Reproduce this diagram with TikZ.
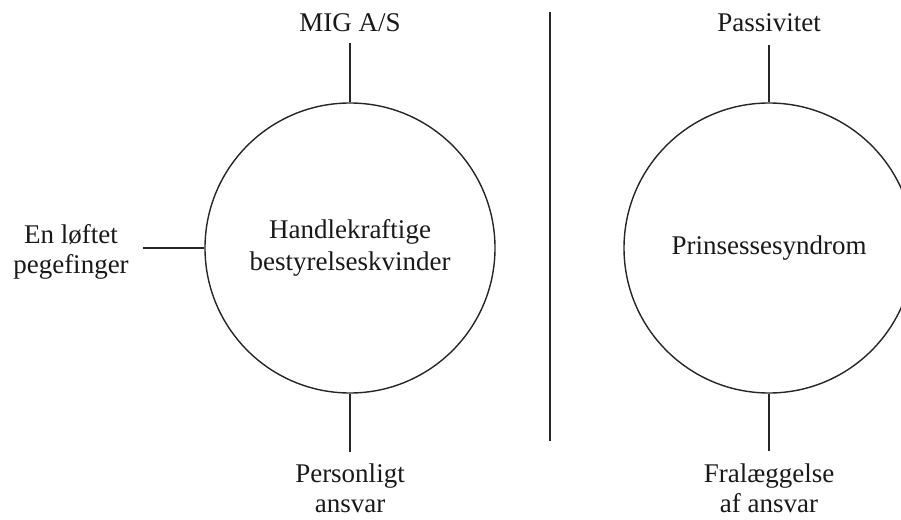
\documentclass[tikz,border=0pt]{standalone}
\usepackage{fontspec}
\setmainfont{Liberation Serif}
\begin{document}
\begin{tikzpicture}[x=1pt,y=-1pt,
  lbl/.style={font=\fontsize{27}{30}\selectfont, align=center, inner sep=0pt, text=black!90},
  bubble/.style={circle, draw=black!85, line width=1.4pt, minimum size=290pt, inner sep=0pt, align=center, font=\fontsize{27}{32}\selectfont, text=black!90},
  conn/.style={draw=black!85, line width=1.4pt}]
\useasboundingbox (0,0) rectangle (901,519);
\clip (0,0) rectangle (901,519);
% left circle
\node[bubble] (L) at (350,248) {Handlekraftige\\bestyrelseskvinder};
\node[lbl] (mig) at (350,23) {MIG A/S};
\node[lbl] (fing) at (71,252) {En løftet\\pegefinger};
\node[lbl] (pers) at (350,488) {Personligt\\ansvar};
\coordinate (migend) at (350,43);
\coordinate (fingend) at (143,248);
\coordinate (persend) at (350,452);
\draw[conn] (L.north) -- (migend);
\draw[conn] (L.west) -- (fingend);
\draw[conn] (L.south) -- (persend);
% divider
\coordinate (dtop) at (550,12);
\coordinate (dbot) at (550,441);
\draw[conn] (dtop) -- (dbot);
% right circle
\node[bubble] (R) at (769,248) {Prinsessesyndrom};
\node[lbl] (pas) at (769,23) {Passivitet};
\node[lbl] (fral) at (769,488) {Fralæggelse\\af ansvar};
\coordinate (pasend) at (769,45);
\coordinate (fralend) at (769,451);
\draw[conn] (R.north) -- (pasend);
\draw[conn] (R.south) -- (fralend);
\end{tikzpicture}
\end{document}
